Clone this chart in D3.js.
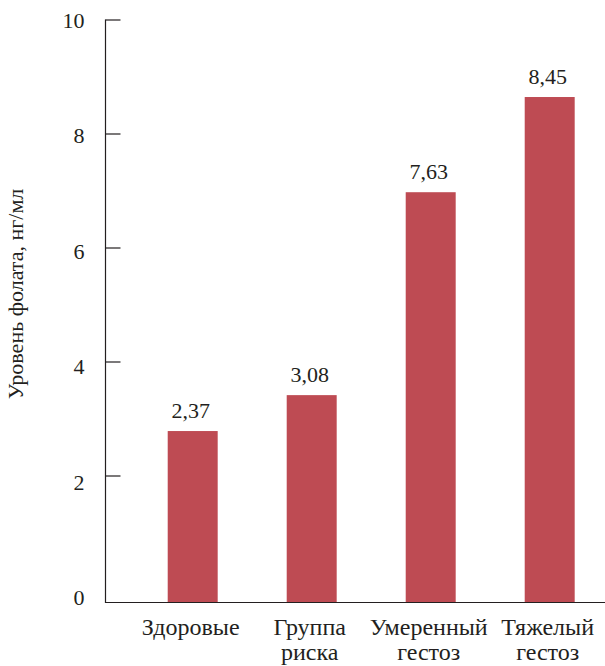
<!DOCTYPE html>
<html>
<head>
<meta charset="utf-8">
<script src="https://cdn.jsdelivr.net/npm/d3@7"></script>
</head>
<body style="margin:0;background:#fff">
<svg id="chart" width="605" height="666"></svg>
<script>
// Data
const categories = [["Здоровые"], ["Группа", "риска"], ["Умеренный", "гестоз"], ["Тяжелый", "гестоз"]];
const barHeights = [2.78, 3.41, 6.97, 8.64];          // bar heights as drawn
const valueLabels = ["2,37", "3,08", "7,63", "8,45"];  // printed value labels
const yTicks = [0, 2, 4, 6, 8, 10];
const yTitle = "Уровень фолата, нг/мл";

const W = 605, H = 666;
const axisX = 105.5, axisBottom = 602.5;
const barColor = "#be4b53";
const ink = "#231f20";
const FONT = "Liberation Serif";

const svg = d3.select("#chart");

const y = d3.scaleLinear().domain([0, 10]).range([589.5, 19.5]);
const yLab = d3.scaleLinear().domain([0, 10]).range([597, 20]);
const x = d3.scaleBand().domain(d3.range(categories.length))
  .range([133.2, 609.2]).paddingInner(0.58).paddingOuter(0.29);

// Bars
svg.append("g").selectAll("rect").data(barHeights).join("rect")
  .attr("x", (d, i) => x(i))
  .attr("width", x.bandwidth())
  .attr("y", d => y(d))
  .attr("height", d => (axisBottom - 0.5) - y(d))
  .attr("fill", barColor);

// Value labels
svg.selectAll("text.val").data(valueLabels).join("text")
  .attr("class", "val")
  .attr("x", (d, i) => x(i) + x.bandwidth() / 2 - 2)
  .attr("y", (d, i) => y(barHeights[i]) - 13)
  .attr("text-anchor", "middle")
  .attr("font-family", FONT)
  .attr("font-size", 22)
  .attr("fill", ink)
  .text(d => d);

// Y axis ticks (inward)
const yAxisG = svg.append("g").attr("transform", `translate(${axisX},0)`)
  .call(d3.axisLeft(y).tickValues(yTicks.filter(t => t > 0)).tickSizeInner(-15).tickSizeOuter(0).tickFormat(""));
yAxisG.select(".domain").remove();
yAxisG.selectAll(".tick line").attr("stroke", ink).attr("stroke-width", 1.2);

// Y axis tick labels
const yLabG = svg.append("g").attr("transform", `translate(${axisX},0)`)
  .call(d3.axisLeft(yLab).tickValues(yTicks).tickSize(0).tickPadding(21).tickFormat(d3.format("d")));
yLabG.attr("font-family", FONT).attr("font-size", 22);
yLabG.select(".domain").remove();
yLabG.selectAll(".tick text")
  .attr("font-family", FONT)
  .attr("font-size", 22)
  .attr("fill", ink)
  .attr("dy", "0.34em");

// Axis lines
svg.append("line")
  .attr("x1", axisX).attr("x2", axisX)
  .attr("y1", y(10)).attr("y2", axisBottom + 0.6)
  .attr("stroke", ink).attr("stroke-width", 1.2);
svg.append("line")
  .attr("x1", axisX).attr("x2", W)
  .attr("y1", axisBottom).attr("y2", axisBottom)
  .attr("stroke", ink).attr("stroke-width", 1.2);

// Category labels
const catG = svg.selectAll("text.cat").data(categories).join("text")
  .attr("class", "cat")
  .attr("text-anchor", "middle")
  .attr("font-family", FONT)
  .attr("font-size", 24)
  .attr("fill", ink)
  .attr("transform", (d, i) => `translate(${x(i) + x.bandwidth() / 2 - 2},635)`);
catG.selectAll("tspan").data(d => d).join("tspan")
  .attr("x", 0)
  .attr("y", (d, j) => j * 25)
  .text(d => d);

// Y title
svg.append("text")
  .attr("transform", `translate(23,294) rotate(-90)`)
  .attr("text-anchor", "middle")
  .attr("font-family", FONT)
  .attr("font-size", 22)
  .attr("fill", ink)
  .text(yTitle);
</script>
</body>
</html>
